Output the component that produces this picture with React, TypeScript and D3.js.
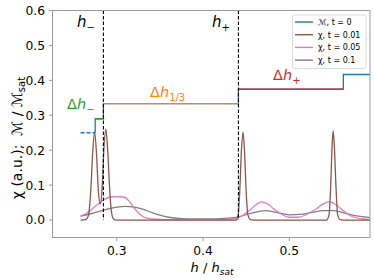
import * as d3 from "d3";
import { useEffect } from "react";

// chi curves, [h/hsat, chi]
const chiT001: [number, number][] = [
  [0.258, 0], [0.264, 0.001], [0.267, 0.012], [0.270, 0.09], [0.272, 0.19], [0.2743, 0.252],
  [0.2765, 0.19], [0.2785, 0.09], [0.2808, 0.046], [0.283, 0.09], [0.285, 0.2], [0.2873, 0.26],
  [0.2895, 0.2], [0.2915, 0.1], [0.2935, 0.03], [0.296, 0.004], [0.300, 0], [0.438, 0],
  [0.4405, 0.01], [0.4425, 0.08], [0.4445, 0.2], [0.4463, 0.252], [0.448, 0.2], [0.450, 0.08],
  [0.452, 0.015], [0.455, 0.001], [0.458, 0], [0.543, 0], [0.546, 0.015], [0.548, 0.1],
  [0.5495, 0.21], [0.5508, 0.255], [0.5522, 0.21], [0.554, 0.1], [0.556, 0.015], [0.559, 0.001],
  [0.562, 0], [0.594, 0],
];
const chiT005: [number, number][] = [
  [0.258, 0.011], [0.264, 0.018], [0.270, 0.029], [0.278, 0.045], [0.285, 0.058], [0.292, 0.066],
  [0.300, 0.067], [0.308, 0.066], [0.314, 0.055], [0.320, 0.035], [0.326, 0.018], [0.332, 0.008],
  [0.340, 0.003], [0.360, 0.001], [0.420, 0.001], [0.435, 0.003], [0.445, 0.012], [0.455, 0.03],
  [0.462, 0.045], [0.468, 0.052], [0.475, 0.046], [0.482, 0.032], [0.490, 0.018], [0.500, 0.008],
  [0.510, 0.008], [0.520, 0.016], [0.530, 0.03], [0.538, 0.044], [0.546, 0.052], [0.553, 0.046],
  [0.560, 0.032], [0.567, 0.018], [0.575, 0.008], [0.585, 0.003], [0.594, 0.001],
];
const chiT01: [number, number][] = [
  [0.258, 0.011], [0.270, 0.018], [0.280, 0.025], [0.290, 0.032], [0.300, 0.037], [0.310, 0.039],
  [0.320, 0.037], [0.330, 0.031], [0.340, 0.022], [0.350, 0.014], [0.360, 0.008], [0.375, 0.004],
  [0.390, 0.003], [0.410, 0.003], [0.425, 0.005], [0.441, 0.009], [0.455, 0.019], [0.472, 0.027],
  [0.485, 0.022], [0.500, 0.015], [0.512, 0.016], [0.525, 0.021], [0.540, 0.027], [0.552, 0.027],
  [0.565, 0.019], [0.580, 0.011], [0.594, 0.007],
];

// magnetisation plateaus and the fields where they jump
const plateauStart = 0.258;
const jumpFields = [0.275, 0.2845, 0.441, 0.5626];
const plateauLevels = [0.25, 0.29, 1 / 3, 0.375, 0.4167];
const hMinus = 0.2845;
const hPlus = 0.441;

const xTicks = [0.3, 0.4, 0.5];
const yTicks = [0.0, 0.1, 0.2, 0.3, 0.4, 0.5, 0.6];

const legendItems = [
  { label: "ℳ, t = 0", color: "#1f77b4" },
  { label: "χ, t = 0.01", color: "#8c564b" },
  { label: "χ, t = 0.05", color: "#e377c2" },
  { label: "χ, t = 0.1", color: "#7f7f7f" },
];

const W = 374, H = 280;
const m = { left: 52.5, right: 4, top: 10.5, bottom: 42.5 };
const font = "DejaVu Sans";

export default function App() {
  useEffect(() => {
    document.body.style.margin = "0";
  }, []);

  const x = d3.scaleLinear().domain([0.2255, 0.5935]).range([m.left, W - m.right]);
  const y = d3.scaleLinear().domain([-0.05, 0.6]).range([H - m.bottom, m.top]);

  const line = d3.line<[number, number]>()
    .x(d => x(d[0]))
    .y(d => y(d[1]))
    .curve(d3.curveMonotoneX);

  // blue staircase
  const stairs: [number, number][] = [[jumpFields[0], plateauLevels[0]]];
  jumpFields.forEach((f, i) => {
    stairs.push([f, plateauLevels[i + 1]]);
    if (i + 1 < jumpFields.length) stairs.push([jumpFields[i + 1], plateauLevels[i + 1]]);
  });
  stairs.push([x.domain()[1], plateauLevels[4]]);
  const straight = d3.line<[number, number]>().x(d => x(d[0])).y(d => y(d[1]));

  const segColors = ["#2ca02c", "#ff7f0e", "#d62728"];

  return (
    <svg width={W} height={H} style={{ display: "block" }} fontFamily={font}>
      <defs>
        <clipPath id="plot">
          <rect x={m.left} y={m.top} width={W - m.left - m.right} height={H - m.top - m.bottom} />
        </clipPath>
      </defs>
      <g clipPath="url(#plot)">
        <path d={line(chiT01)!} fill="none" stroke="#7f7f7f" strokeWidth={1.3} />
        <path d={line(chiT005)!} fill="none" stroke="#e377c2" strokeWidth={1.3} />
        <path d={line(chiT001)!} fill="none" stroke="#8c564b" strokeWidth={1.3} />
        <path d={straight([[plateauStart, plateauLevels[0]], [jumpFields[0], plateauLevels[0]]])!}
          fill="none" stroke="#1f77b4" strokeWidth={1.3} strokeDasharray="4,2" />
        <path d={straight(stairs)!} fill="none" stroke="#1f77b4" strokeWidth={1.3} />
        {segColors.map((c, i) => (
          <line key={c} x1={x(jumpFields[i])} x2={x(jumpFields[i + 1])}
            y1={y(plateauLevels[i + 1])} y2={y(plateauLevels[i + 1])} stroke={c} strokeWidth={1.4} />
        ))}
        {[hMinus, hPlus].map(h => (
          <line key={h} x1={x(h)} x2={x(h)} y1={y(0.6)} y2={y(0)} stroke="#000" strokeWidth={1.1}
            strokeDasharray="3.5,2" />
        ))}
      </g>

      {/* frame */}
      <rect x={m.left} y={m.top} width={W - m.left - m.right} height={H - m.top - m.bottom}
        fill="none" stroke="#9a9a9a" strokeWidth={1} />
      {xTicks.map(t => (
        <g key={t}>
          <line x1={x(t)} x2={x(t)} y1={H - m.bottom} y2={H - m.bottom + 3.5} stroke="#9a9a9a" />
          <text x={x(t)} y={255} fontSize={12.3} textAnchor="middle">{d3.format(".1f")(t)}</text>
        </g>
      ))}
      {yTicks.map(t => (
        <g key={t}>
          <line x1={m.left - 3.5} x2={m.left} y1={y(t)} y2={y(t)} stroke="#9a9a9a" />
          <text x={45} y={y(t)} dy="0.36em" fontSize={12.3} textAnchor="end">{d3.format(".1f")(t)}</text>
        </g>
      ))}

      {/* axis labels */}
      <text x={212} y={272} fontSize={13} textAnchor="middle">
        <tspan fontStyle="italic">h</tspan> / <tspan fontStyle="italic">h</tspan>
        <tspan fontStyle="italic" fontSize={9} dy={3}>sat</tspan>
      </text>
      <text transform="translate(22,138) rotate(-90)" fontSize={14} textAnchor="middle">
        {"χ (a.u.);\u00a0\u00a0ℳ / ℳ"}<tspan fontSize={10} dy={3}>sat</tspan>
      </text>

      {/* annotations */}
      <text x={77} y={27} fontSize={15} fontStyle="italic">h<tspan fontStyle="normal" fontSize={10} dy={4}>−</tspan></text>
      <text x={212} y={27} fontSize={15} fontStyle="italic">h<tspan fontStyle="normal" fontSize={10} dy={4}>+</tspan></text>
      <text x={67} y={109} fontSize={14.5} fill="#2ca02c">Δ<tspan fontStyle="italic">h</tspan><tspan fontSize={10} dy={4}>−</tspan></text>
      <text x={150} y={97} fontSize={14.5} fill="#ff7f0e">Δ<tspan fontStyle="italic">h</tspan><tspan fontSize={10} dy={4}>1/3</tspan></text>
      <text x={273} y={80} fontSize={14.5} fill="#d62728">Δ<tspan fontStyle="italic">h</tspan><tspan fontSize={10} dy={4}>+</tspan></text>

      {/* legend */}
      <rect x={292.5} y={15} width={73.5} height={53.5} rx={2} fill="#fff" fillOpacity={0.8}
        stroke="#d0d0d0" strokeWidth={0.8} />
      {legendItems.map((d, i) => (
        <g key={d.label} transform={`translate(295,${22 + i * 12.7})`}>
          <line x1={0} x2={18} stroke={d.color} strokeWidth={1.4} />
          <text x={23} dy="0.35em" fontSize={8}>{d.label}</text>
        </g>
      ))}
    </svg>
  );
}
